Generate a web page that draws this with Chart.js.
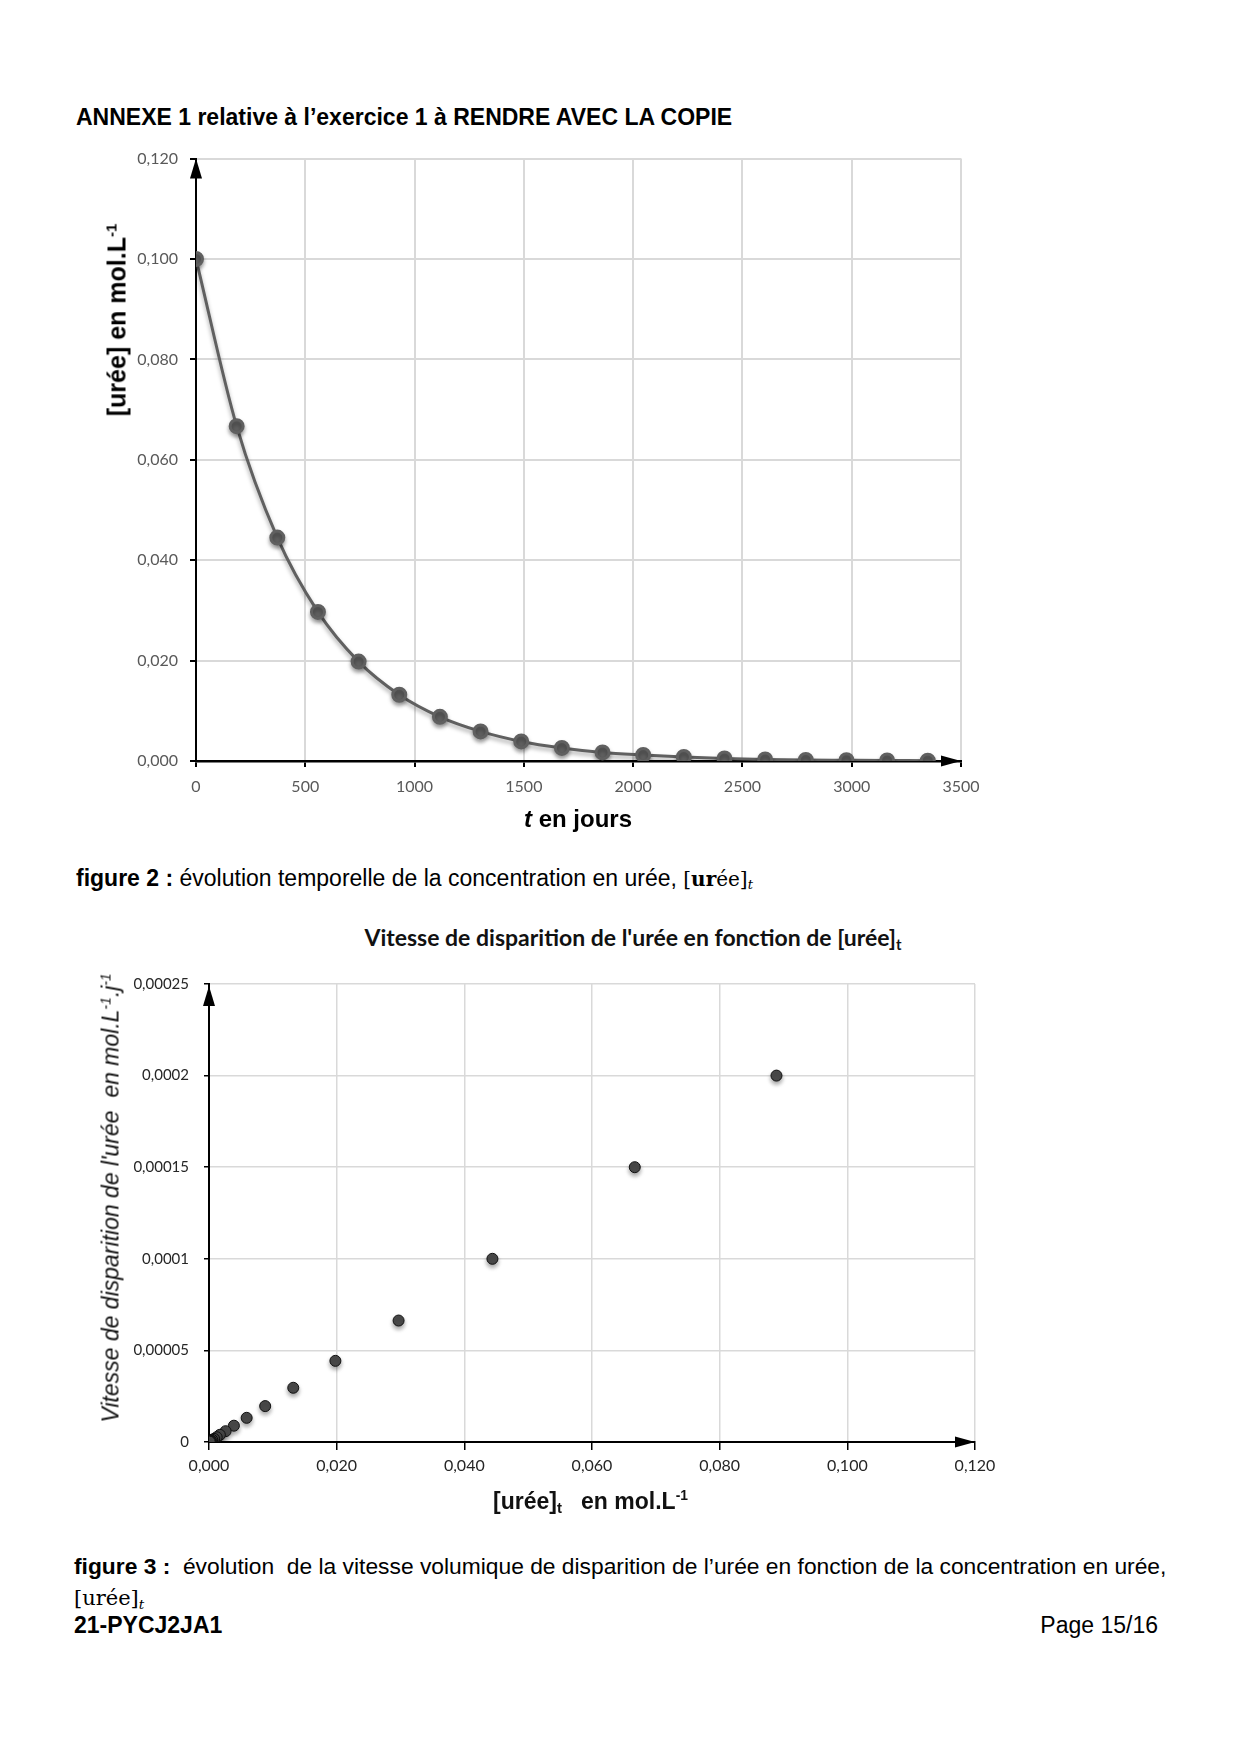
<!DOCTYPE html>
<html lang="fr">
<head>
<meta charset="utf-8">
<title>Annexe 1 - urée</title>
<script src="https://cdn.jsdelivr.net/npm/chart.js@4.4.1/dist/chart.umd.min.js"></script>
<style>
  html, body { margin: 0; padding: 0; background: #fff; }
  #page { position: relative; width: 1240px; height: 1754px; overflow: hidden; font-family: "Liberation Sans", Arial, sans-serif; color: #000; }
  canvas { position: absolute; }
  .txt { position: absolute; white-space: nowrap; line-height: 1; }
  .rot { transform: translate(-50%, -50%) rotate(-90deg); }
  .ctr { transform: translate(-50%, -50%); }
  .vmid { transform: translateY(-50%); }
  sup { font-size: 60%; vertical-align: 0.6em; line-height: 0; }
  sub { font-size: 65%; vertical-align: -0.3em; line-height: 0; }
  .serif { font-family: "DejaVu Serif", "Liberation Serif", serif; }
</style>
</head>
<body>
<div id="page">
  <canvas id="fig2" width="900" height="700" style="left:96px; top:137px;"></canvas>
  <canvas id="fig3" width="900" height="540" style="left:109px; top:960px;"></canvas>

  <div class="txt vmid" style="left:76px; top:117px; font-size:23px; font-weight:bold;">ANNEXE 1 relative à l’exercice 1 à RENDRE AVEC LA COPIE</div>

  <div class="txt rot" style="left:117px; top:320px; font-size:25px; font-weight:bold;">[urée] en mol.L<sup>-1</sup></div>
  <div class="txt ctr" style="left:578px; top:819px; font-size:24px; font-weight:bold;"><i>t</i> en jours</div>

  <div class="txt vmid" style="left:76px; top:878px; font-size:23px;"><b>figure 2 :</b> évolution temporelle de la concentration en urée, <span class="serif" style="font-size:20px;">[<b>ur</b>ée]<sub><i>t</i></sub></span></div>

  <div class="txt ctr" style="left:633px; top:937px; font-size:23px; font-weight:bold; font-family:Lato, sans-serif; color:#111;">Vitesse de disparition de l'urée en fonction de [urée]<sub>t</sub></div>

  <div class="txt rot" style="left:111px; top:1198px; font-size:23px; font-style:italic; color:#111;">Vitesse de disparition de l'urée&nbsp; en mol.L<sup>-1</sup>.j<sup>-1</sup></div>
  <div class="txt vmid" style="left:493px; top:1501px; font-size:23px; font-weight:bold; color:#111;">[urée]<sub>t</sub>&nbsp;&nbsp; en mol.L<sup>-1</sup></div>

  <div class="txt vmid" style="left:74px; top:1566px; font-size:22.8px;"><b>figure 3 :</b>&nbsp; évolution&nbsp; de la vitesse volumique de disparition de l’urée en fonction de la concentration en urée,</div>
  <div class="txt vmid serif" style="left:74px; top:1598px; font-size:21px;">[urée]<sub><i>t</i></sub></div>
  <div class="txt vmid" style="left:74px; top:1625px; font-size:23px; font-weight:bold;">21-PYCJ2JA1</div>
  <div class="txt vmid" style="left:1158px; top:1625px; font-size:23px; transform:translate(-100%,-50%);">Page 15/16</div>
</div>

<script>
// figure 2 : [urée] en fonction du temps (jours)
const jours = [0, 186, 372, 558, 744, 930, 1116, 1302, 1488, 1674, 1860, 2046, 2232, 2418, 2604, 2790, 2976, 3162, 3348];
const uree = [0.100, 0.0667, 0.0445, 0.0297, 0.0198, 0.0132, 0.0088, 0.0059, 0.0039, 0.0026, 0.0017, 0.0012, 0.0008, 0.0005, 0.0003, 0.0002, 0.00015, 0.0001, 0.00007];
const joursTicks = [0, 500, 1000, 1500, 2000, 2500, 3000, 3500];
const ureeTicks = [0, 0.02, 0.04, 0.06, 0.08, 0.10, 0.12];

// figure 3 : vitesse de disparition en fonction de [urée]
const concentration = [0.0889, 0.0667, 0.0444, 0.0297, 0.0198, 0.0132, 0.0088, 0.0059, 0.0039, 0.0026, 0.0017, 0.0012, 0.0008, 0.0005, 0.0003, 0.0002, 0.00015, 0.0001];
const vitesse = [0.0002, 0.00015, 0.0001, 0.0000663, 0.0000443, 0.0000296, 0.0000196, 0.0000132, 0.0000089, 0.0000059, 0.0000039, 0.0000026, 0.0000017, 0.0000012, 0.0000008, 0.0000005, 0.0000003, 0.0000002];
const concTicks = [0, 0.02, 0.04, 0.06, 0.08, 0.10, 0.12];
const vitesseTicks = [0, 0.00005, 0.0001, 0.00015, 0.0002, 0.00025];

Chart.defaults.font.family = 'Lato, sans-serif';
Chart.defaults.animation = false;

const fmt3 = v => v.toFixed(3).replace('.', ',');
const fmtV = v => v === 0 ? '0' : String(+v.toPrecision(3)).replace('.', ',');
const useTicks = arr => scale => { scale.ticks = arr.map(v => ({ value: v })); };

// petite ombre sous les points, comme dans Excel
const shadow = {
  id: 'shadow',
  beforeDatasetsDraw(chart) {
    const ctx = chart.ctx;
    ctx.save();
    ctx.shadowColor = 'rgba(0,0,0,0.35)';
    ctx.shadowBlur = 4;
    ctx.shadowOffsetY = 3;
  },
  afterDatasetsDraw(chart) {
    chart.ctx.restore();
  }
};

// flèches au bout des axes
const arrows = {
  id: 'arrows',
  afterDraw(chart, args, opts) {
    const { ctx, chartArea: a } = chart;
    ctx.save();
    ctx.fillStyle = '#000';
    // axe vertical
    ctx.beginPath();
    ctx.moveTo(a.left, a.top + opts.yTip);
    ctx.lineTo(a.left - opts.w / 2, a.top + opts.yTip + opts.len);
    ctx.lineTo(a.left + opts.w / 2, a.top + opts.yTip + opts.len);
    ctx.closePath();
    ctx.fill();
    // axe horizontal
    ctx.beginPath();
    ctx.moveTo(a.right, a.bottom);
    ctx.lineTo(a.right - opts.len, a.bottom - opts.h / 2);
    ctx.lineTo(a.right - opts.len, a.bottom + opts.h / 2);
    ctx.closePath();
    ctx.fill();
    ctx.restore();
  }
};

new Chart(document.getElementById('fig2'), {
  type: 'line',
  data: {
    datasets: [{
      data: jours.map((t, i) => ({ x: t, y: uree[i] })),
      borderColor: '#606060',
      borderWidth: 3,
      cubicInterpolationMode: 'monotone',
      pointRadius: 6.5,
      pointBackgroundColor: '#606060',
      pointBorderColor: '#606060',
      fill: false
    }]
  },
  options: {
    responsive: false,
    layout: { padding: { left: 0, right: 35, top: 20, bottom: 26 } },
    plugins: {
      legend: { display: false },
      tooltip: { enabled: false },
      arrows: { yTip: 0, len: 20, w: 12, h: 11 }
    },
    scales: {
      x: {
        type: 'linear',
        min: 0,
        max: 3500,
        afterBuildTicks: useTicks(joursTicks),
        afterFit: s => { s.height = 50; },
        grid: { color: '#d9d9d9', lineWidth: 2, tickLength: 6, tickColor: '#000' },
        border: { color: '#000', width: 2.5 },
        ticks: { color: '#595959', font: { size: 16 }, padding: 10, maxRotation: 0, callback: v => String(v) }
      },
      y: {
        min: 0,
        max: 0.12,
        afterBuildTicks: useTicks(ureeTicks),
        afterFit: s => { s.width = 100; },
        grid: { color: '#d9d9d9', lineWidth: 2, tickLength: 6, tickColor: '#000' },
        border: { color: '#000', width: 2 },
        ticks: { color: '#595959', font: { size: 16 }, padding: 12, callback: v => fmt3(v) }
      }
    }
  },
  plugins: [shadow, arrows]
});

new Chart(document.getElementById('fig3'), {
  type: 'scatter',
  data: {
    datasets: [{
      data: concentration.map((c, i) => ({ x: c, y: vitesse[i] })),
      pointRadius: 5.5,
      pointBackgroundColor: '#4a4a4a',
      pointBorderColor: '#111',
      pointBorderWidth: 1
    }]
  },
  options: {
    responsive: false,
    layout: { padding: { left: 0, right: 34, top: 21, bottom: 18 } },
    plugins: {
      legend: { display: false },
      tooltip: { enabled: false },
      arrows: { yTip: 2, len: 20, w: 12, h: 11 }
    },
    scales: {
      x: {
        type: 'linear',
        min: 0,
        max: 0.12,
        afterBuildTicks: useTicks(concTicks),
        afterFit: s => { s.height = 40; },
        grid: { color: '#d9d9d9', lineWidth: 1.5, tickLength: 8, tickColor: '#000' },
        border: { color: '#000', width: 2 },
        ticks: { color: '#262626', font: { size: 16 }, padding: 6, maxRotation: 0, callback: v => fmt3(v) }
      },
      y: {
        min: 0,
        max: 0.00025,
        afterBuildTicks: useTicks(vitesseTicks),
        afterFit: s => { s.width = 100; },
        grid: { color: '#d9d9d9', lineWidth: 1.5, tickLength: 5, tickColor: '#000' },
        border: { color: '#000', width: 2 },
        ticks: { color: '#262626', font: { size: 15 }, padding: 15, callback: v => fmtV(v) }
      }
    }
  },
  plugins: [shadow, arrows]
});
</script>
</body>
</html>
